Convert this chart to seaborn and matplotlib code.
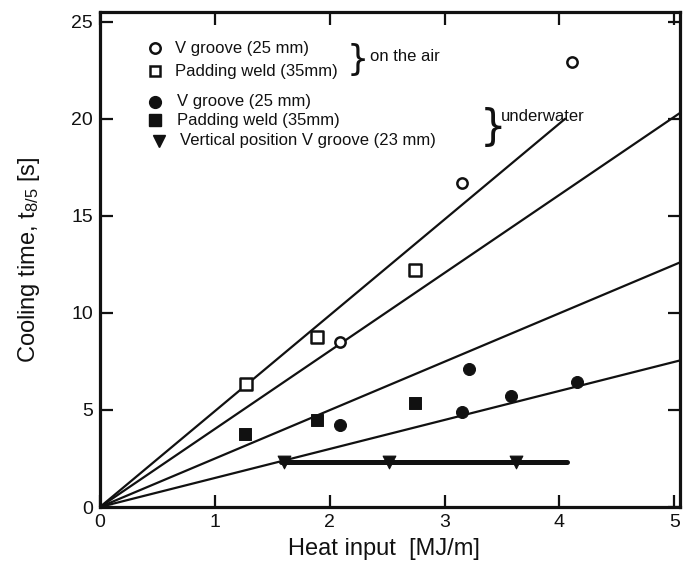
import matplotlib
matplotlib.use("Agg")
import matplotlib.pyplot as plt
import seaborn as sns
import pandas as pd

# ---- data ----
air_v_x = [2.09, 3.15, 4.11]
air_v_y = [8.5, 16.7, 22.9]
air_pad_x = [1.27, 1.89, 2.745]
air_pad_y = [6.35, 8.75, 12.2]
uw_v_x = [2.09, 3.15, 3.21, 3.58, 4.15]
uw_v_y = [4.22, 4.88, 7.1, 5.74, 6.45]
uw_pad_x = [1.265, 1.89, 2.745]
uw_pad_y = [3.78, 4.48, 5.35]
uw_vert_x = [1.6, 2.52, 3.62]
uw_vert_y = [2.33, 2.33, 2.33]

# fitted lines (end points)
line_names = ["A", "A", "B", "B", "C", "C", "D", "D"]
line_x = [0, 4.05, 0, 5.05, 0, 5.05, 0, 5.05]
line_y = [0, 20.0, 0, 20.3, 0, 12.6, 0, 7.55]
vert_line_x = [1.58, 4.07]
vert_line_y = [2.3, 2.3]

x_ticks = [0, 1, 2, 3, 4, 5]
y_ticks = [0, 5, 10, 15, 20, 25]

sns.set_style("ticks")
plt.rcParams["font.family"] = ["Liberation Sans", "DejaVu Sans"]
plt.rcParams["mathtext.default"] = "regular"

fig = plt.figure(figsize=(6.83, 5.68), dpi=100)
ax = fig.add_axes([100 / 683, 1 - 507 / 568, 580 / 683, 495 / 568])

lines_df = pd.DataFrame({"line": line_names, "x": line_x, "y": line_y})
sns.lineplot(data=lines_df, x="x", y="y", units="line", estimator=None,
             color="#111111", lw=1.6, ax=ax, legend=False)
sns.lineplot(x=vert_line_x, y=vert_line_y, color="#111111", lw=3.6, ax=ax,
             legend=False, estimator=None)

sns.scatterplot(x=air_v_x, y=air_v_y, marker="o", s=55, facecolor="white",
                edgecolor="#111111", linewidth=1.8, ax=ax, zorder=5)
sns.scatterplot(x=air_pad_x, y=air_pad_y, marker="s", s=70, facecolor="white",
                edgecolor="#111111", linewidth=1.8, ax=ax, zorder=5)
sns.scatterplot(x=uw_v_x, y=uw_v_y, marker="o", s=75, color="#111111",
                edgecolor="#111111", ax=ax, zorder=5)
sns.scatterplot(x=uw_pad_x, y=uw_pad_y, marker="s", s=75, color="#111111",
                edgecolor="#111111", ax=ax, zorder=5)
sns.scatterplot(x=uw_vert_x, y=uw_vert_y, marker="v", s=85, color="#111111",
                edgecolor="#111111", ax=ax, zorder=5)

ax.set_xlim(0, 5.05)
ax.set_ylim(0, 25.5)
ax.set_xticks(x_ticks)
ax.set_yticks(y_ticks)
ax.set_xticklabels([str(t) for t in x_ticks])
ax.set_yticklabels([str(t) for t in y_ticks])
ax.tick_params(direction="in", length=9, width=1.6, top=True, right=True,
               labelsize=14, colors="#111111", pad=5)
for s in ax.spines.values():
    s.set_linewidth(2.3)
    s.set_color("#111111")

ax.set_xlabel("Heat input  [MJ/m]", fontsize=17, color="#111111")
ax.set_ylabel("Cooling time, t$_{8/5}$ [s]", fontsize=17, color="#111111")
ax.xaxis.set_label_coords(0.49, -0.062)
ax.yaxis.set_label_coords(-0.10, 0.50)

# ---- hand-made legend ----
tk = dict(transform=ax.transAxes, fontsize=12, color="#111111", va="center")
mk = dict(transform=ax.transAxes, clip_on=False, zorder=6)
ax.plot([0.0948], [0.9267], marker="o", ms=7.5, mfc="white", mec="#111111", mew=1.8, **mk)
ax.text(0.1293, 0.9267, "V groove (25 mm)", **tk)
ax.plot([0.0948], [0.8808], marker="s", ms=7.5, mfc="white", mec="#111111", mew=1.8, **mk)
ax.text(0.1293, 0.8808, "Padding weld (35mm)", **tk)
ax.text(0.425, 0.904, "}", transform=ax.transAxes, fontsize=25, color="#111111",
        va="center", ha="left", fontfamily="DejaVu Sans")
ax.text(0.4655, 0.911, "on the air", **tk)

ax.plot([0.0948], [0.8188], marker="o", ms=8.5, mfc="#111111", mec="#111111", **mk)
ax.text(0.1328, 0.8188, "V groove (25 mm)", **tk)
ax.plot([0.0948], [0.7818], marker="s", ms=8.5, mfc="#111111", mec="#111111", **mk)
ax.text(0.1328, 0.7818, "Padding weld (35mm)", **tk)
ax.plot([0.1017], [0.740], marker="v", ms=9, mfc="#111111", mec="#111111", **mk)
ax.text(0.138, 0.740, "Vertical position V groove (23 mm)", **tk)
ax.text(0.655, 0.766, "}", transform=ax.transAxes, fontsize=30, color="#111111",
        va="center", ha="left", fontfamily="DejaVu Sans")
ax.text(0.692, 0.788, "underwater", **tk)

fig.savefig("out.png", dpi=100)
